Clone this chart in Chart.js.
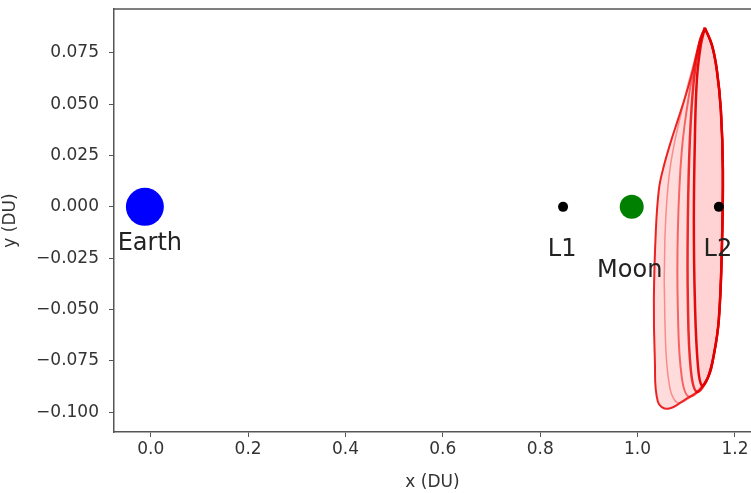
<!DOCTYPE html>
<html>
<head>
<meta charset="utf-8">
<script src="https://cdn.jsdelivr.net/npm/chart.js@4"></script>
<style>
html, body { margin: 0; padding: 0; background: #fff; overflow: hidden; }
</style>
</head>
<body>
<canvas id="chart" width="751" height="493"></canvas>
<script>
// bodies in the rotating frame (DU)
const bodyNames = ['Earth', 'L1', 'Moon', 'L2'];
const bodyX = [-0.012, 0.847, 0.988, 1.167];
const bodyY = [0, 0, 0, 0];

const xTicks = [0, 0.2, 0.4, 0.6, 0.8, 1.0, 1.2];
const yTicks = [-0.1, -0.075, -0.05, -0.025, 0, 0.025, 0.05, 0.075];

// orbit family: shared right side + left side of each orbit
const orbitRight = [[1.1382, 0.0872], [1.1526, 0.0789], [1.1628, 0.0667], [1.1711, 0.0472],
    [1.1752, 0.0180], [1.1731, -0.0209], [1.1669, -0.0550], [1.1567, -0.0721], [1.1443, -0.0833]];
const orbitLeftA = [[1.1320, -0.0872], [1.1238, -0.0770], [1.1177, -0.0453], [1.1156, -0.0063],
    [1.1177, 0.0326], [1.1218, 0.0619], [1.1300, 0.0789], [1.1382, 0.0872]];
const orbitLeftB = [[1.1218, -0.0901], [1.1094, -0.0794], [1.1033, -0.0453], [1.1033, -0.0063],
    [1.1074, 0.0326], [1.1156, 0.0619], [1.1279, 0.0804], [1.1382, 0.0872]];
const orbitLeftC = [[1.1074, -0.0925], [1.0910, -0.0833], [1.0828, -0.0502], [1.0828, -0.0112],
    [1.0910, 0.0278], [1.1074, 0.0570], [1.1259, 0.0789], [1.1382, 0.0872]];
const orbitLeftD = [[1.0869, -0.0955], [1.0663, -0.0882], [1.0561, -0.0550], [1.0561, -0.0161],
    [1.0663, 0.0180], [1.0910, 0.0472], [1.1197, 0.0740], [1.1382, 0.0872]];
const orbitLeftE = [[1.1279, -0.0891], [1.0971, -0.0940], [1.0622, -0.0984], [1.0417, -0.0950],
    [1.0355, -0.0745], [1.0335, -0.0453], [1.0376, -0.0112], [1.0437, 0.0083], [1.0519, 0.0180],
    [1.0663, 0.0302], [1.0828, 0.0424], [1.0992, 0.0546], [1.1136, 0.0667], [1.1279, 0.0813],
    [1.1382, 0.0872]];

function loop(left) {
    return orbitRight.concat(left).map(p => ({x: p[0], y: p[1]}));
}

function orbitSet(left, line, width, fillColour, order) {
    return {
        data: loop(left),
        showLine: true,
        pointRadius: 0,
        tension: 0.4,
        borderColor: line,
        borderWidth: width,
        backgroundColor: fillColour || 'transparent',
        fill: fillColour ? 'shape' : false,
        order: order
    };
}

const bodyLabels = {
    id: 'bodyLabels',
    afterDatasetsDraw(chart) {
        const ctx = chart.ctx;
        const xs = chart.scales.x, ys = chart.scales.y;
        const offsets = [[5, 37], [-1, 43], [-2, 64], [-1, 43]];
        ctx.save();
        ctx.font = '24px "DejaVu Sans"';
        ctx.fillStyle = '#222';
        ctx.textAlign = 'center';
        ctx.textBaseline = 'middle';
        bodyNames.forEach((name, i) => {
            ctx.fillText(name, xs.getPixelForValue(bodyX[i]) + offsets[i][0],
                ys.getPixelForValue(bodyY[i]) + offsets[i][1]);
        });
        ctx.restore();
    },
    afterDraw(chart) {
        // top edge of the frame
        const a = chart.chartArea, ctx = chart.ctx;
        ctx.save();
        ctx.strokeStyle = '#555';
        ctx.lineWidth = 1.5;
        ctx.beginPath();
        ctx.moveTo(a.left, a.top);
        ctx.lineTo(a.right, a.top);
        ctx.stroke();
        ctx.restore();
    }
};

const tickFont = {family: '"DejaVu Sans"', size: 17};

new Chart(document.getElementById('chart').getContext('2d'), {
    type: 'scatter',
    data: {
        datasets: [
            {
                data: bodyX.map((x, i) => ({x: x, y: bodyY[i]})),
                pointRadius: [19, 5, 12, 5],
                backgroundColor: ['#0000ff', '#000000', '#008000', '#000000'],
                borderWidth: 0,
                order: 0
            },
            orbitSet(orbitLeftA, 'rgba(225,0,0,0.95)', 2.5, 'rgba(255,40,40,0.05)', 1),
            orbitSet(orbitLeftB, 'rgba(230,0,0,0.8)', 2.5, null, 2),
            orbitSet(orbitLeftC, 'rgba(240,20,20,0.6)', 2, null, 3),
            orbitSet(orbitLeftD, 'rgba(245,40,40,0.45)', 1.5, null, 4),
            orbitSet(orbitLeftE, 'rgba(230,0,0,0.85)', 2, 'rgba(255,60,60,0.18)', 5)
        ]
    },
    options: {
        responsive: false,
        animation: false,
        layout: {autoPadding: false, padding: {top: 9, right: 0, left: 0, bottom: 0}},
        plugins: {legend: {display: false}, tooltip: {enabled: false}},
        scales: {
            x: {
                type: 'linear',
                min: -0.0754,
                max: 1.233,
                afterFit: s => { s.height = 61; s.paddingLeft = 0; s.paddingRight = 0; },
                afterBuildTicks: s => { s.ticks = xTicks.map(v => ({value: v})); },
                ticks: {font: tickFont, color: '#333', padding: 2, maxRotation: 0, autoSkip: false,
                    callback: v => v.toFixed(1)},
                grid: {drawOnChartArea: false, tickLength: 5, color: '#555'},
                border: {color: '#555', width: 1.5},
                title: {display: true, text: 'x (DU)', font: tickFont, color: '#333', padding: 0}
            },
            y: {
                type: 'linear',
                min: -0.1097,
                max: 0.0964,
                afterFit: s => { s.width = 114; s.paddingTop = 0; s.paddingBottom = 0; },
                afterBuildTicks: s => { s.ticks = yTicks.map(v => ({value: v})); },
                ticks: {font: tickFont, color: '#333', padding: 10, autoSkip: false,
                    callback: v => (v < 0 ? '\u2212' : '') + Math.abs(v).toFixed(3)},
                grid: {drawOnChartArea: false, tickLength: 5, color: '#555'},
                border: {color: '#555', width: 1.5},
                title: {display: true, text: 'y (DU)', font: tickFont, color: '#333', padding: 0}
            }
        }
    },
    plugins: [bodyLabels]
});
</script>
</body>
</html>
